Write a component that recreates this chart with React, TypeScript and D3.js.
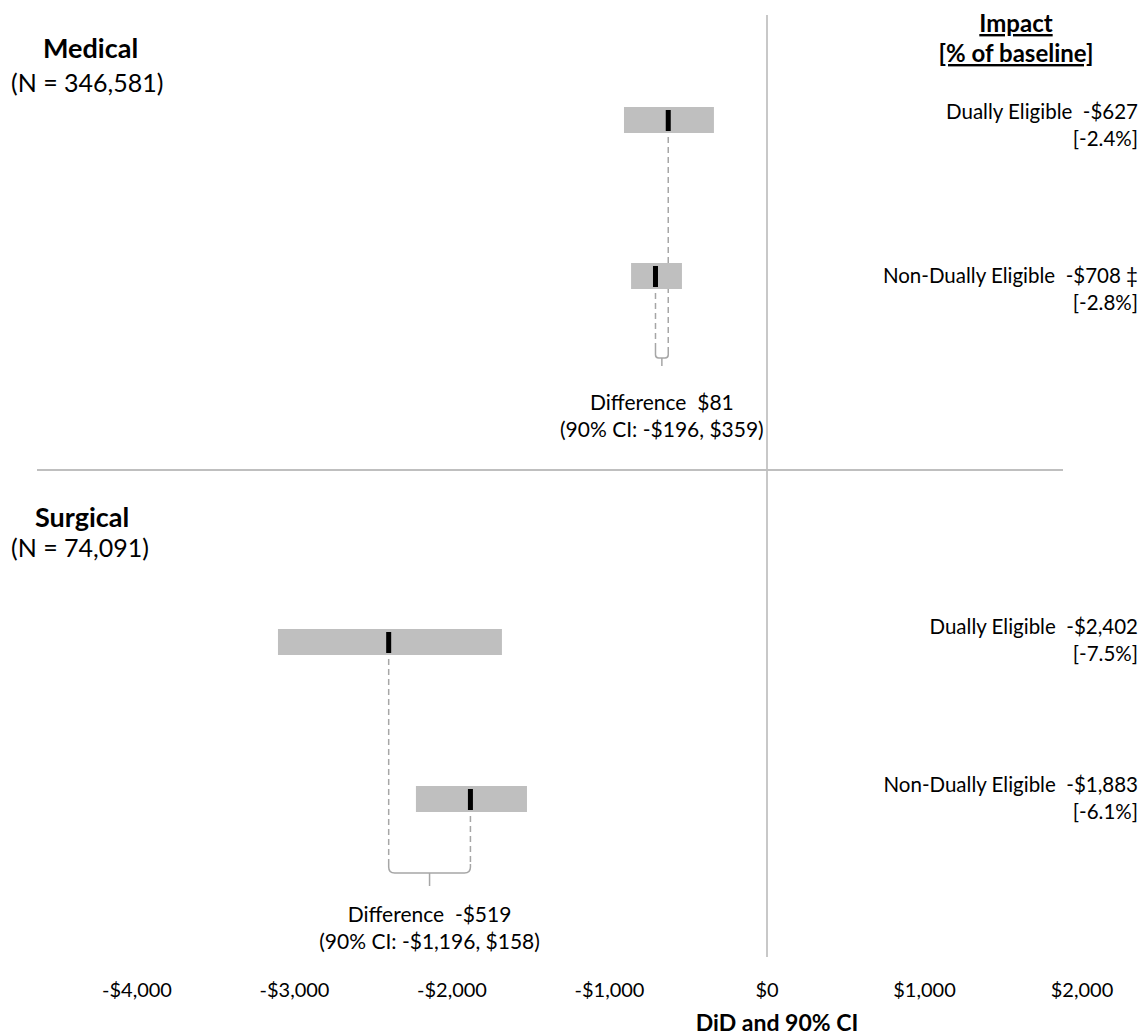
import React from "react";
import * as d3 from "d3";

const W = 1143;
const H = 1036;

const groups = ["Medical", "Surgical"];
const groupN = ["(N = 346,581)", "(N = 74,091)"];
const subgroups = ["Dually Eligible", "Non-Dually Eligible"];
const estimates = [
  [-627, -708],
  [-2402, -1883],
];
const ciLow = [
  [-908, -863],
  [-3105, -2229],
];
const ciHigh = [
  [-337, -540],
  [-1683, -1524],
];
const pctLabels = [
  ["[-2.4%]", "[-2.8%]"],
  ["[-7.5%]", "[-6.1%]"],
];
const flags = [
  ["", " \u2021"],
  ["", ""],
];
const diffValues = [81, -519];
const diffCI = ["(90% CI: -$196, $359)", "(90% CI: -$1,196, $158)"];
const xTicks = [-4000, -3000, -2000, -1000, 0, 1000, 2000];
const axisTitle = "DiD and 90% CI";
const headerLines = ["Impact", "[% of baseline]"];

const FONT = "Lato, 'Open Sans', sans-serif";

const money = (v: number) =>
  (v < 0 ? "-" : "") + "$" + d3.format(",")(Math.abs(v));

// layout
const x = d3.scaleLinear().domain([-4000, 2000]).range([137, 1082]);
const rowY = [
  d3.scaleLinear().domain([0, 1]).range([120, 276]),
  d3.scaleLinear().domain([0, 1]).range([642, 799]),
];
const labelOffset = [
  [-1, 7],
  [-8, -7],
];
const titleY = [58, 527];
const nY = [92, 557];
const bracketY = [358, 873];
const bracketTip = [8, 13];
const diffTextY = [410, 922];
const barH = 26;

export default function App() {
  const grey = "#bfbfbf";
  const dash = "#a6a6a6";
  return (
    <svg
      width={W}
      height={H}
      style={{ position: "absolute", left: 0, top: 0, background: "#fff" }}
      fontFamily={FONT}
    >
      <rect width={W} height={H} fill="#fff" />
      {/* zero line */}
      <line x1={x(0)} x2={x(0)} y1={15} y2={957} stroke="#c8c8c8" strokeWidth={2} />
      {/* separator */}
      <line x1={37} x2={1063} y1={470} y2={470} stroke={grey} strokeWidth={2} />

      {/* header */}
      <text x={1016} y={32} textAnchor="middle" fontWeight="bold" fontSize={24} textDecoration="underline">
        {headerLines[0]}
      </text>
      <text x={1016} y={62} textAnchor="middle" fontWeight="bold" fontSize={24} textDecoration="underline">
        {headerLines[1]}
      </text>

      {groups.map((g, gi) => {
        const y = rowY[gi];
        const est = estimates[gi];
        const yB = bracketY[gi];
        const xL = Math.min(x(est[0]), x(est[1]));
        const xR = Math.max(x(est[0]), x(est[1]));
        const xc = (xL + xR) / 2;
        const r = Math.min(6, (xR - xL) / 4);
        return (
          <g key={g}>
            <text x={gi === 0 ? 43 : 35} y={titleY[gi]} fontWeight="bold" fontSize={27}>
              {g}
            </text>
            <text x={11} y={nY[gi]} fontSize={25}>
              {groupN[gi]}
            </text>
            {/* dashed connectors */}
            {est.map((e, i) => {
              const cy = y(i);
              return (
                <line
                  key={"d" + i}
                  x1={x(e)}
                  x2={x(e)}
                  y1={cy + barH / 2 + 4}
                  y2={yB - 9}
                  stroke={dash}
                  strokeWidth={1.5}
                  strokeDasharray="6,4"
                />
              );
            })}
            {/* bars */}
            {est.map((e, i) => {
              const cy = y(i);
              return (
                <g key={"b" + i}>
                  <rect
                    x={x(ciLow[gi][i])}
                    y={cy - barH / 2}
                    width={x(ciHigh[gi][i]) - x(ciLow[gi][i])}
                    height={barH}
                    fill={grey}
                  />
                  <rect x={x(e) - 2.5} y={cy - barH / 2 + 3} width={5} height={21} fill="#000" />
                </g>
              );
            })}
            {/* bracket */}
            <path
              d={`M${xL},${yB - 9} V${yB - r} Q${xL},${yB} ${xL + r},${yB} H${xR - r} Q${xR},${yB} ${xR},${yB - r} V${yB - 9} M${xc},${yB} V${yB + bracketTip[gi]}`}
              fill="none"
              stroke={dash}
              strokeWidth={1.5}
            />
            {/* difference text */}
            <text x={xc} y={diffTextY[gi]} textAnchor="middle" fontSize={21} style={{ whiteSpace: "pre" }}>
              {"Difference  " + money(diffValues[gi])}
            </text>
            <text x={xc} y={diffTextY[gi] + 27} textAnchor="middle" fontSize={21}>
              {diffCI[gi]}
            </text>
            {/* right labels */}
            {est.map((e, i) => {
              const ly = y(i) + labelOffset[gi][i];
              return (
                <g key={"l" + i}>
                  <text x={1138} y={ly} textAnchor="end" fontSize={20.5} style={{ whiteSpace: "pre" }}>
                    {subgroups[i] + "  " + money(e) + flags[gi][i]}
                  </text>
                  <text x={1138} y={ly + 27} textAnchor="end" fontSize={20.5}>
                    {pctLabels[gi][i]}
                  </text>
                </g>
              );
            })}
          </g>
        );
      })}

      {/* x axis tick labels */}
      {xTicks.map((t) => (
        <text key={t} x={x(t)} y={997} textAnchor="middle" fontSize={20}>
          {money(t)}
        </text>
      ))}
      <text x={777} y={1031} textAnchor="middle" fontWeight="bold" fontSize={23}>
        {axisTitle}
      </text>
    </svg>
  );
}
